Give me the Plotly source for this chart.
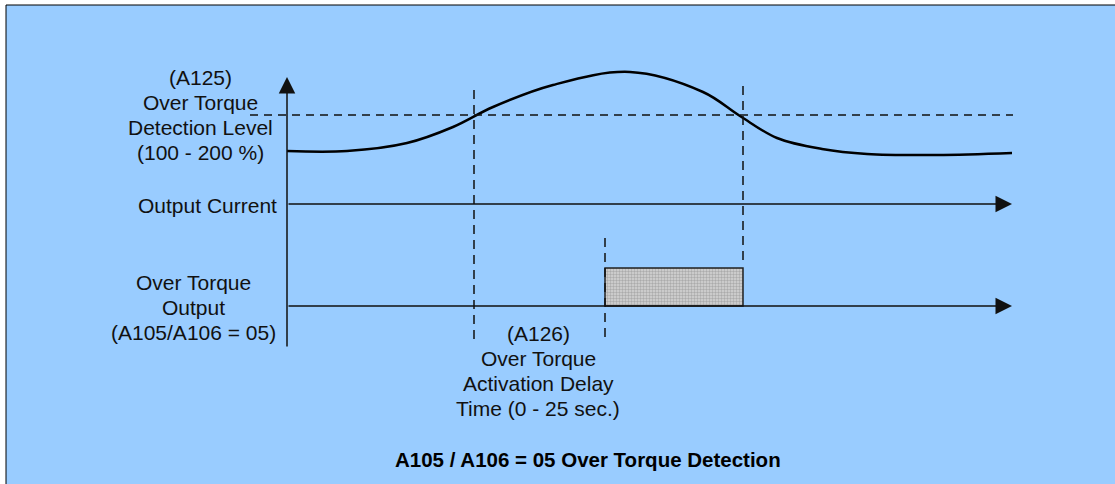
import plotly.graph_objects as go

# ─── Diagram data (time along the axis, level above the "Output Current" base) ──
CURRENT_T = [0, 60, 120, 166, 206, 266, 343, 416, 453, 490, 535, 580, 650, 725]
CURRENT_V = [53, 53, 61, 77, 97, 119, 132, 112, 88, 66, 55, 50, 49, 51]

DETECT_LEVEL = 89          # (A125) over torque detection level
T_CROSS_UP = 187           # current rises above level
T_DELAY_END = 318          # after (A126) activation delay
T_CROSS_DOWN = 456         # current falls below level
T_END = 725                # end of time axes

OUT_BASE = -102            # over torque output axis
OUT_HIGH = -64             # output active level

LEVEL_LABEL = ["(A125)", "Over Torque", "Detection Level", "(100 - 200 %)"]
OUTPUT_LABEL = ["Over Torque", "Output", "(A105/A106 = 05)"]
DELAY_LABEL = ["(A126)", "Over Torque", "Activation Delay", "Time (0 - 25 sec.)"]
TITLE = "A105 / A106 = 05 Over Torque Detection"

BG = "#99CCFF"
INK = "#111111"
FONT = "Arial, Liberation Sans, sans-serif"
LINE_STEP = 25.3

fig = go.Figure()

# output current waveform
fig.add_trace(go.Scatter(
    x=CURRENT_T, y=CURRENT_V, mode="lines",
    line=dict(color="black", width=2.5, shape="spline", smoothing=1.0),
    hoverinfo="skip",
))

# over torque output pulse (hatched box)
fig.add_trace(go.Scatter(
    x=[T_DELAY_END, T_DELAY_END, T_CROSS_DOWN, T_CROSS_DOWN, T_DELAY_END],
    y=[OUT_BASE, OUT_HIGH, OUT_HIGH, OUT_BASE, OUT_BASE],
    mode="lines", fill="toself",
    fillcolor="#cfcfcf",
    fillpattern=dict(shape=".", fgcolor="#808080", bgcolor="#d6d6d6", size=3, solidity=0.5),
    line=dict(color="#222222", width=1.5),
    hoverinfo="skip",
))

shapes = [
    # outer frame
    dict(type="rect", xref="paper", yref="paper", x0=6 / 1115, x1=1.05, y0=-0.05, y1=1 - 5 / 484,
         fillcolor=BG, line=dict(color="black", width=1), layer="below"),
    # detection level (dashed)
    dict(type="line", x0=-37, x1=T_END + 1, y0=DETECT_LEVEL, y1=DETECT_LEVEL,
         line=dict(color=INK, width=1.5, dash="8px,6px")),
    # vertical dashed markers
    dict(type="line", x0=T_CROSS_UP, x1=T_CROSS_UP, y0=114, y1=-136,
         line=dict(color=INK, width=1.5, dash="9px,6px")),
    dict(type="line", x0=T_DELAY_END, x1=T_DELAY_END, y0=-34, y1=-136,
         line=dict(color=INK, width=1.5, dash="9px,6px")),
    dict(type="line", x0=T_CROSS_DOWN, x1=T_CROSS_DOWN, y0=118, y1=-58,
         line=dict(color=INK, width=1.5, dash="9px,6px")),
]

annotations = []

# axes with arrowheads
for x0, y0, x1, y1 in [(0, -144, 0, 127), (0, 0, T_END, 0), (0, OUT_BASE, T_END, OUT_BASE)]:
    annotations.append(dict(
        x=x1, y=y1, ax=x0, ay=y0, xref="x", yref="y", axref="x", ayref="y",
        showarrow=True, arrowhead=2, arrowsize=2.2, arrowwidth=1.5, arrowcolor=INK,
        text="", standoff=0,
    ))


def add_block(lines, x, y_top, anchor="center"):
    for i, line in enumerate(lines):
        annotations.append(dict(
            x=x, y=y_top - i * LINE_STEP, xref="x", yref="y", text=line, showarrow=False,
            xanchor=anchor, yanchor="middle",
            font=dict(family=FONT, size=21, color=INK),
        ))


add_block(LEVEL_LABEL, -87, 127)
add_block(["Output Current"], -8, -1, anchor="right")
add_block(OUTPUT_LABEL, -94, -78)
add_block(DELAY_LABEL, 251, -129)

annotations.append(dict(
    x=301, y=-255, xref="x", yref="y", showarrow=False,
    text=f"<b>{TITLE}</b>",
    font=dict(family=FONT, size=20.5, color="black"),
))

fig.update_layout(
    width=1115, height=484,
    margin=dict(l=0, r=0, t=0, b=0),
    paper_bgcolor="white", plot_bgcolor="rgba(0,0,0,0)",
    showlegend=False,
    xaxis=dict(range=[-287, 828], visible=False, fixedrange=True),
    yaxis=dict(range=[-280, 204], visible=False, fixedrange=True),
    shapes=shapes,
    annotations=annotations,
)

fig.write_html("out.html", config={"displayModeBar": False},
               post_script="document.body.style.margin='0';")
